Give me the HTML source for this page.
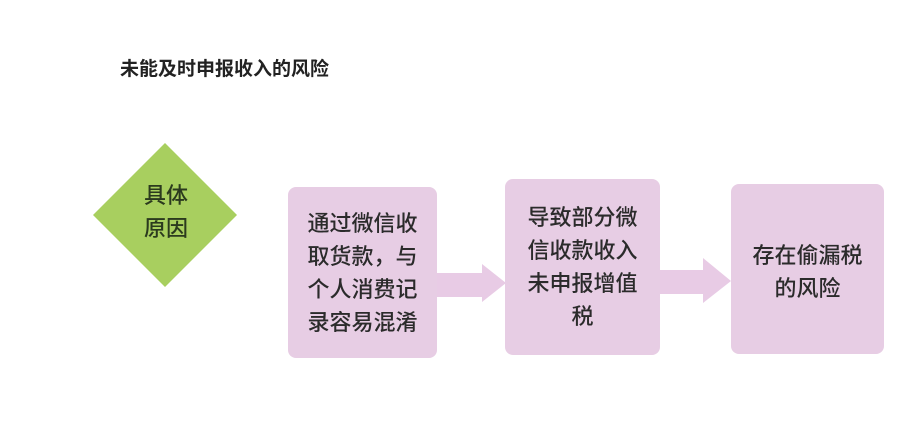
<!DOCTYPE html>
<html><head><meta charset="utf-8"><style>
body{margin:0;width:912px;height:430px;background:#fff;position:relative;overflow:hidden;font-family:"Liberation Sans","Noto Sans CJK SC",sans-serif;color:#2b2b2b}
.t{position:absolute;left:120px;top:54px;font-size:19px;font-weight:bold;color:#222}
.b{position:absolute;background:#e7cde4;border-radius:8px;display:flex;align-items:center;justify-content:center;text-align:center;font-size:22px;line-height:33px;font-weight:500}
</style></head><body>
<div class="t">未能及时申报收入的风险</div>
<svg width="912" height="430" style="position:absolute;left:0;top:0">
<polygon points="165,143 237,215 165,287 93,215" fill="#a8cf5f"/>
<polygon points="436,273 482,273 482,264 506,283 482,302 482,297 436,297" fill="#e8cbe5"/>
<polygon points="659,270 703,270 703,258 731,281 703,303 703,294 659,294" fill="#e8cbe5"/>
</svg>
<div style="position:absolute;left:140px;top:179px;font-size:22px;line-height:33px;color:#2b3a1e;text-align:center;width:52px;font-weight:500">具体<br>原因</div>
<div class="b" style="left:288px;top:187px;width:149px;height:171px">通过微信收<br>取货款，与<br>个人消费记<br>录容易混淆</div>
<div class="b" style="left:505px;top:179px;width:155px;height:176px">导致部分微<br>信收款收入<br>未申报增值<br>税</div>
<div class="b" style="left:731px;top:184px;width:153px;height:170px;padding-top:6px;box-sizing:border-box">存在偷漏税<br>的风险</div>
</body></html>
